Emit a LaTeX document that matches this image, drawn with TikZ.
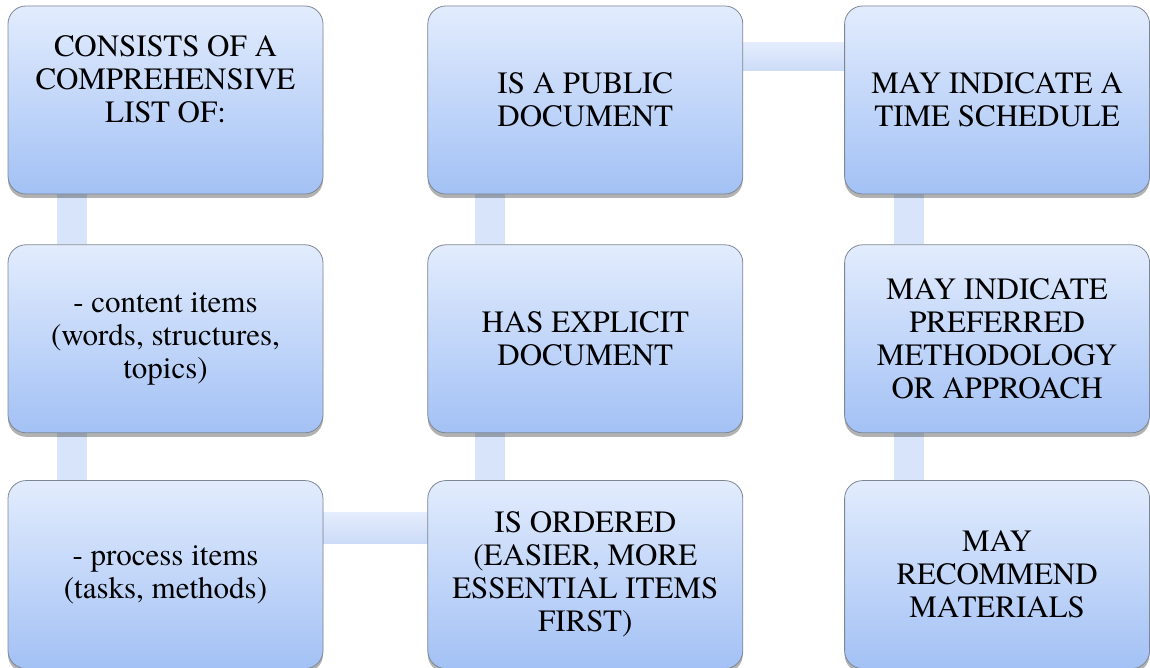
\documentclass[tikz,border=0pt]{standalone}
\usepackage{fontspec}
\newfontfamily\cardfont{texgyretermes-regular.otf}
\usetikzlibrary{positioning, shadows, backgrounds}
\definecolor{sylltop}{HTML}{E2ECFD}
\definecolor{syllbot}{HTML}{A3C1F5}
\definecolor{syllline}{HTML}{7D8794}
\definecolor{syllbar}{HTML}{D8E4FA}
\definecolor{syllbartop}{HTML}{E4EDFD}
\definecolor{syllbarbot}{HTML}{CCDBF7}
\tikzset{
  card/.style={rectangle, rounded corners=18pt, minimum width=315pt, minimum height=188pt,
    draw=syllline, line width=0.8pt, top color=sylltop, bottom color=syllbot, inner sep=4pt,
    font=\cardfont\fontsize{31}{33}\selectfont, align=center,
    drop shadow={shadow xshift=0pt, shadow yshift=-4pt, opacity=0.3, fill=black}},
  vlink/.style={line width=30pt, syllbar},
  hlink/.style={top color=syllbartop, bottom color=syllbarbot, draw=none},
}
\begin{document}
\begin{tikzpicture}[x=1pt, y=1pt]
    \useasboundingbox (0,0) rectangle (1150,668);
    % column 1
    \node[card] (c1r1) at (165.5,568) {CONSISTS OF A\\COMPREHENSIVE\\LIST OF:\\ \strut};
    \node[card, below=50pt of c1r1] (c1r2) {- content items\\(words, structures,\\topics)};
    \node[card, below=47pt of c1r2] (c1r3) {- process items\\(tasks, methods)};
    % column 2
    \node[card, right=104pt of c1r1] (c2r1) {IS A PUBLIC\\DOCUMENT};
    \node[card, below=50pt of c2r1] (c2r2) {HAS EXPLICIT\\DOCUMENT};
    \node[card, below=47pt of c2r2] (c2r3) {IS ORDERED\\(EASIER, MORE\\ESSENTIAL ITEMS\\FIRST)};
    % column 3
    \node[card, minimum width=305pt, right=101pt of c2r1] (c3r1) {MAY INDICATE A\\TIME SCHEDULE};
    \node[card, minimum width=305pt, below=50pt of c3r1] (c3r2) {MAY INDICATE\\PREFERRED\\METHODOLOGY\\OR APPROACH};
    \node[card, minimum width=305pt, below=47pt of c3r2] (c3r3) {MAY\\RECOMMEND\\MATERIALS};
    % links
    \begin{scope}[on background layer]
      \draw[vlink] ([xshift=64pt]c1r1.south west) -- ([xshift=64pt]c1r2.north west);
      \draw[vlink] ([xshift=64pt]c1r2.south west) -- ([xshift=64pt]c1r3.north west);
      \path[hlink] ([yshift=-32pt]c1r3.north east) rectangle ([yshift=-63pt]c2r3.north west);
      \draw[vlink] ([xshift=63pt]c2r3.north west) -- ([xshift=63pt]c2r2.south west);
      \draw[vlink] ([xshift=63pt]c2r2.north west) -- ([xshift=63pt]c2r1.south west);
      \path[hlink] ([yshift=-37pt]c2r1.north east) rectangle ([yshift=-65pt]c3r1.north west);
      \draw[vlink] ([xshift=65pt]c3r1.south west) -- ([xshift=65pt]c3r2.north west);
      \draw[vlink] ([xshift=65pt]c3r2.south west) -- ([xshift=65pt]c3r3.north west);
    \end{scope}
\end{tikzpicture}
\end{document}
